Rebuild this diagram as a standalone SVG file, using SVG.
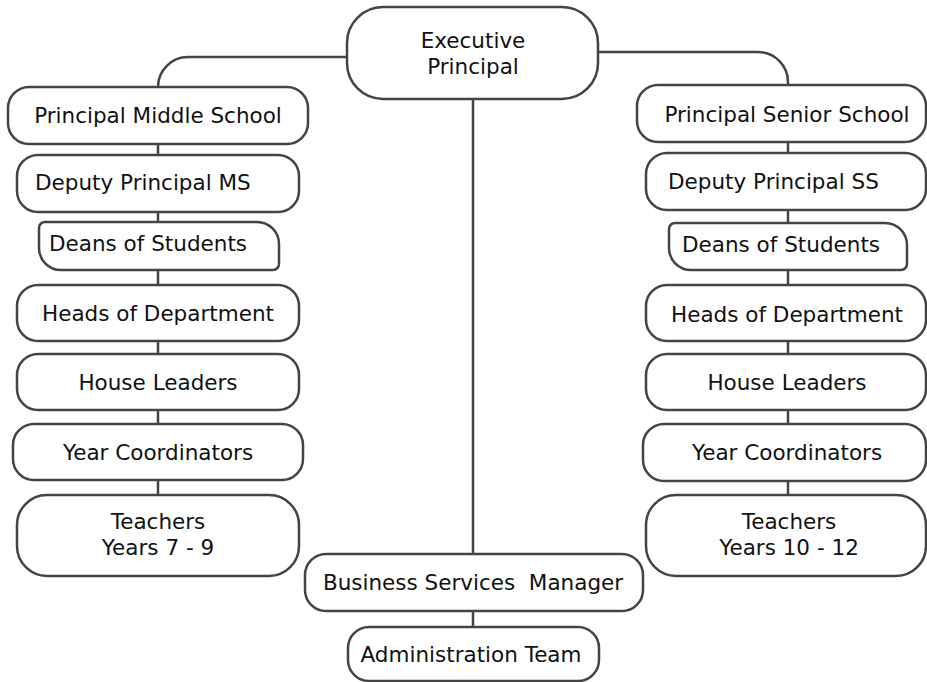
<svg xmlns="http://www.w3.org/2000/svg" width="927" height="682" viewBox="0 0 927 682">
<style>
.n{fill:#fff;stroke:#444;stroke-width:2.5}
.c{fill:none;stroke:#444;stroke-width:2.5}
text{font-family:"DejaVu Sans","Verdana",sans-serif;font-size:21.5px;fill:#111}
.m{text-anchor:middle}
</style>
<rect width="927" height="682" fill="#fff"/>
<g id="connectors">
<path class="c" d="M347,57 H188 A30,30 0 0 0 158,87"/>
<path class="c" d="M598,52 H758 A30,30 0 0 1 788,82 V85"/>
<path class="c" d="M158,144 V155 M158,212 V222 M158,270 V285 M158,341 V354 M158,410 V424 M158,480 V495"/>
<path class="c" d="M788,142 V153 M788,210 V223 M788,270 V285 M788,341 V354 M788,410 V424 M788,481 V495"/>
<path class="c" d="M473,99 V554 M473,611 V627"/>
</g>
<g id="exec"><rect class="n" x="347" y="7" width="251" height="92" rx="36"/><text class="m" x="473" y="48">Executive</text><text class="m" x="473" y="74">Principal</text></g>
<g id="pms"><rect class="n" x="8" y="87" width="300" height="57" rx="21"/><text class="m" x="158" y="123">Principal Middle School</text></g>
<g id="dpms"><rect class="n" x="17" y="155" width="282" height="57" rx="21"/><text x="35" y="190">Deputy Principal MS</text></g>
<g id="deansms"><path class="n" d="M45,222 H257 A22,22 0 0 1 279,244 V264 A6,6 0 0 1 273,270 H61 A22,22 0 0 1 39,248 V228 A6,6 0 0 1 45,222 Z"/><text x="49" y="251">Deans of Students</text></g>
<g id="hodms"><rect class="n" x="17" y="285" width="282" height="56" rx="21"/><text class="m" x="158" y="321">Heads of Department</text></g>
<g id="hlms"><rect class="n" x="17" y="354" width="282" height="56" rx="21"/><text class="m" x="158" y="390">House Leaders</text></g>
<g id="ycms"><rect class="n" x="13" y="424" width="290" height="56" rx="21"/><text class="m" x="158" y="460">Year Coordinators</text></g>
<g id="tms"><rect class="n" x="17" y="495" width="282" height="81" rx="30"/><text class="m" x="158" y="529">Teachers</text><text class="m" x="158" y="555">Years 7 - 9</text></g>
<g id="pss"><rect class="n" x="637" y="85" width="289" height="57" rx="21"/><text class="m" x="787" y="122">Principal Senior School</text></g>
<g id="dpss"><rect class="n" x="646" y="153" width="280" height="57" rx="21"/><text x="668" y="189">Deputy Principal SS</text></g>
<g id="deansss"><path class="n" d="M675,223 H885 A22,22 0 0 1 907,245 V264 A6,6 0 0 1 901,270 H691 A22,22 0 0 1 669,248 V229 A6,6 0 0 1 675,223 Z"/><text x="682" y="252">Deans of Students</text></g>
<g id="hodss"><rect class="n" x="646" y="285" width="280" height="56" rx="21"/><text class="m" x="787" y="322">Heads of Department</text></g>
<g id="hlss"><rect class="n" x="646" y="354" width="280" height="56" rx="21"/><text class="m" x="787" y="390">House Leaders</text></g>
<g id="ycss"><rect class="n" x="643" y="424" width="283" height="57" rx="21"/><text class="m" x="787" y="460">Year Coordinators</text></g>
<g id="tss"><rect class="n" x="646" y="495" width="280" height="81" rx="30"/><text class="m" x="789" y="529">Teachers</text><text class="m" x="789" y="555">Years 10 - 12</text></g>
<g id="bsm"><rect class="n" x="305" y="554" width="338" height="57" rx="21"/><text class="m" x="473" y="590" xml:space="preserve">Business Services  Manager</text></g>
<g id="admin"><rect class="n" x="348" y="627" width="251" height="54" rx="21"/><text class="m" x="471" y="662">Administration Team</text></g>
</svg>
